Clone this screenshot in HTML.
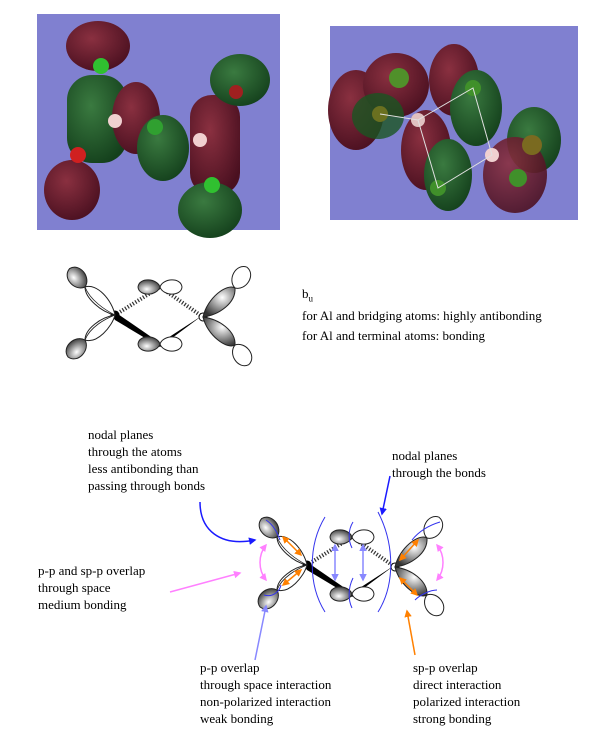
<!DOCTYPE html>
<html><head><style>
body{margin:0;background:#fff;width:600px;height:754px;position:relative;overflow:hidden;font-family:"Liberation Serif",serif;font-size:13px;color:#000}
.t{position:absolute;line-height:17px;white-space:nowrap}
</style></head><body>
<svg width="600" height="754" style="position:absolute;left:0;top:0">
<defs>
<radialGradient id="gr" cx="0.6" cy="0.35" r="0.7"><stop offset="0" stop-color="#fff"/><stop offset="0.5" stop-color="#999"/><stop offset="1" stop-color="#333"/></radialGradient>
<radialGradient id="red" cx="0.4" cy="0.35" r="0.7"><stop offset="0" stop-color="#8a3040"/><stop offset="1" stop-color="#4a1020"/></radialGradient>
<radialGradient id="grn" cx="0.4" cy="0.35" r="0.7"><stop offset="0" stop-color="#3a7a40"/><stop offset="1" stop-color="#14401c"/></radialGradient>
<path id="L" d="M0,0 C3,-11 22,-12 24,0 C22,12 3,11 0,0Z" stroke="#222" stroke-width="1"/>
<path id="S" d="M0,0 C3,-9 21,-10 22,0 C21,10 3,9 0,0Z" stroke="#222" stroke-width="1"/>
<g id="mol">
 <line x1="0" y1="0" x2="45" y2="-28" stroke="#333" stroke-width="4" stroke-dasharray="1.2,1.8"/>
 <line x1="45" y1="-28" x2="88" y2="2" stroke="#333" stroke-width="4" stroke-dasharray="1.2,1.8"/>
 <path d="M0,-3 L45,28 L88,0 L45,32 L0,5Z" fill="#000"/>
 <circle cx="0" cy="0" r="4.5" fill="#000"/>
 <circle cx="88" cy="2" r="4" fill="#fff" stroke="#000"/>
 <use href="#S" x="45" y="-28" transform="rotate(180 45 -28)" fill="url(#gr)"/>
 <use href="#S" x="45" y="-28" fill="#fff"/>
 <use href="#S" x="45" y="29" transform="rotate(180 45 29)" fill="url(#gr)"/>
 <use href="#S" x="45" y="29" fill="#fff"/>
 <use href="#L" x="-30" y="-28" transform="rotate(-130 -30 -28)" fill="url(#gr)"/>
 <path d="M-30,-28 C-18,-32 -3,-15 0,0 C-14,-3 -30,-17 -30,-28Z" fill="#fff" stroke="#222" stroke-width="1"/>
 <path d="M-30,-28 C-25,-15 -10,-5 0,0" fill="none" stroke="#222" stroke-width="0.8"/>
 <use href="#L" x="-30" y="25" transform="rotate(135 -30 25)" fill="url(#gr)"/>
 <path d="M-30,25 C-18,29 -3,12 0,0 C-14,2 -30,14 -30,25Z" fill="#fff" stroke="#222" stroke-width="1"/>
 <path d="M-30,25 C-25,12 -10,4 0,0" fill="none" stroke="#222" stroke-width="0.8"/>
 <use href="#L" x="120" y="-27" transform="rotate(-60 120 -27)" fill="#fff"/>
 <path d="M88,2 C92,-17 112,-32 120,-27 C121,-12 104,0 88,2Z" fill="url(#gr)" stroke="#222" stroke-width="1"/>
 <use href="#L" x="120" y="30" transform="rotate(55 120 30)" fill="#fff"/>
 <path d="M88,2 C92,20 112,35 120,30 C121,16 104,4 88,2Z" fill="url(#gr)" stroke="#222" stroke-width="1"/>
</g>
<marker id="ab" viewBox="0 0 10 10" refX="8" refY="5" markerWidth="5" markerHeight="5" orient="auto-start-reverse"><path d="M0,0L10,5L0,10Z" fill="#1a1aff"/></marker>
<marker id="ap" viewBox="0 0 10 10" refX="8" refY="5" markerWidth="5" markerHeight="5" orient="auto-start-reverse"><path d="M0,0L10,5L0,10Z" fill="#ff80ff"/></marker>
<marker id="al" viewBox="0 0 10 10" refX="8" refY="5" markerWidth="5" markerHeight="5" orient="auto-start-reverse"><path d="M0,0L10,5L0,10Z" fill="#8888ff"/></marker>
<marker id="ao" viewBox="0 0 10 10" refX="8" refY="5" markerWidth="5" markerHeight="5" orient="auto-start-reverse"><path d="M0,0L10,5L0,10Z" fill="#ff8000"/></marker>
</defs>

<rect x="37" y="14" width="243" height="216" fill="#8080d0"/>
<ellipse cx="98" cy="46" rx="32" ry="25" fill="url(#red)"/>
<rect x="67" y="75" width="60" height="88" rx="25" fill="url(#grn)"/>
<ellipse cx="72" cy="190" rx="28" ry="30" fill="url(#red)"/>
<ellipse cx="136" cy="118" rx="24" ry="36" fill="url(#red)"/>
<ellipse cx="163" cy="148" rx="26" ry="33" fill="url(#grn)"/>
<rect x="190" y="95" width="50" height="100" rx="22" fill="url(#red)"/>
<ellipse cx="240" cy="80" rx="30" ry="26" fill="url(#grn)"/>
<ellipse cx="210" cy="210" rx="32" ry="28" fill="url(#grn)"/>
<circle cx="101" cy="66" r="8" fill="#30c030"/><circle cx="78" cy="155" r="8" fill="#d02020"/>
<circle cx="115" cy="121" r="7" fill="#f0d0d0"/><circle cx="200" cy="140" r="7" fill="#f0d0d0"/>
<circle cx="236" cy="92" r="7" fill="#a02020"/><circle cx="212" cy="185" r="8" fill="#30c030"/>
<circle cx="155" cy="127" r="8" fill="#30a030"/>
<rect x="330" y="26" width="248" height="194" fill="#8080d0"/>
<ellipse cx="356" cy="110" rx="28" ry="40" fill="url(#red)"/>
<ellipse cx="396" cy="85" rx="33" ry="32" fill="url(#red)"/>
<ellipse cx="378" cy="116" rx="26" ry="23" fill="#1a5522" opacity="0.8"/>
<ellipse cx="454" cy="80" rx="25" ry="36" fill="url(#red)"/>
<ellipse cx="476" cy="108" rx="26" ry="38" fill="url(#grn)"/>
<ellipse cx="426" cy="150" rx="25" ry="40" fill="url(#red)"/>
<ellipse cx="448" cy="175" rx="24" ry="36" fill="url(#grn)"/>
<ellipse cx="534" cy="140" rx="27" ry="33" fill="url(#grn)"/>
<ellipse cx="515" cy="175" rx="32" ry="38" fill="url(#red)" opacity="0.9"/>
<circle cx="399" cy="78" r="10" fill="#50902a"/><circle cx="380" cy="114" r="8" fill="#6a7020"/>
<circle cx="438" cy="188" r="8" fill="#40902a"/><circle cx="473" cy="88" r="8" fill="#40902a"/>
<circle cx="518" cy="178" r="9" fill="#40902a"/><circle cx="532" cy="145" r="10" fill="#7a6a20"/>
<circle cx="418" cy="120" r="7" fill="#e0c0c0"/><circle cx="492" cy="155" r="7" fill="#f0d0d0"/>
<g stroke="#e0e0e0" stroke-width="1" fill="none"><path d="M380,114 L418,120 L473,88 L492,155 L438,188 L418,120"/></g>

<use href="#mol" transform="translate(115,315)"/>
<use href="#mol" transform="translate(307,565)"/>
<g stroke="#3333ee" stroke-width="1" fill="none">
<path d="M325,517 C308,545 308,585 325,612"/>
<path d="M378,512 C395,545 395,585 378,612"/>
<path d="M353,522 C348,530 348,540 352,548"/>
<path d="M353,578 C348,588 348,600 352,608"/>
<path d="M266,520 C275,526 278,535 280,540"/>
<path d="M264,595 C274,598 280,590 281,585"/>
<path d="M412,540 C420,530 430,525 440,522"/>
<path d="M415,600 C420,595 430,590 437,590"/>
</g>
<g stroke-width="1.5" fill="none">
<line x1="283" y1="537" x2="301" y2="555" stroke="#ff8000" marker-start="url(#ao)" marker-end="url(#ao)"/>
<line x1="283" y1="585" x2="301" y2="570" stroke="#ff8000" marker-start="url(#ao)" marker-end="url(#ao)"/>
<line x1="400" y1="560" x2="418" y2="540" stroke="#ff8000" marker-start="url(#ao)" marker-end="url(#ao)"/>
<line x1="400" y1="578" x2="417" y2="595" stroke="#ff8000" marker-start="url(#ao)" marker-end="url(#ao)"/>
<line x1="335" y1="545" x2="335" y2="580" stroke="#8888ff" marker-start="url(#al)" marker-end="url(#al)"/>
<line x1="363" y1="545" x2="363" y2="580" stroke="#8888ff" marker-start="url(#al)" marker-end="url(#al)"/>
<path d="M266,545 C258,555 258,570 266,580" stroke="#ff80ff" marker-start="url(#ap)" marker-end="url(#ap)"/>
<path d="M437,545 C445,555 445,570 437,580" stroke="#ff80ff" marker-start="url(#ap)" marker-end="url(#ap)"/>
<path d="M200,502 C200,530 220,547 255,540" stroke="#1a1aff" marker-end="url(#ab)"/>
<line x1="390" y1="476" x2="382" y2="514" stroke="#1a1aff" marker-end="url(#ab)"/>
<line x1="170" y1="592" x2="240" y2="573" stroke="#ff80ff" marker-end="url(#ap)"/>
<line x1="255" y1="660" x2="266" y2="606" stroke="#8888ff" marker-end="url(#al)"/>
<line x1="415" y1="655" x2="407" y2="611" stroke="#ff8000" marker-end="url(#ao)"/>
</g>
</svg>

<div class="t" style="left:302px;top:285px">b<sub style="font-size:9px">u</sub></div>
<div class="t" style="left:302px;top:307px">for Al and bridging atoms: highly antibonding</div>
<div class="t" style="left:302px;top:327px">for Al and terminal atoms: bonding</div>

<div class="t" style="left:88px;top:426px">nodal planes<br>through the atoms<br>less antibonding than<br>passing through bonds</div>
<div class="t" style="left:392px;top:447px">nodal planes<br>through the bonds</div>
<div class="t" style="left:38px;top:562px">p-p and sp-p overlap<br>through space<br>medium bonding</div>
<div class="t" style="left:200px;top:659px">p-p overlap<br>through space interaction<br>non-polarized interaction<br>weak bonding</div>
<div class="t" style="left:413px;top:659px">sp-p overlap<br>direct interaction<br>polarized interaction<br>strong bonding</div>
</body></html>
